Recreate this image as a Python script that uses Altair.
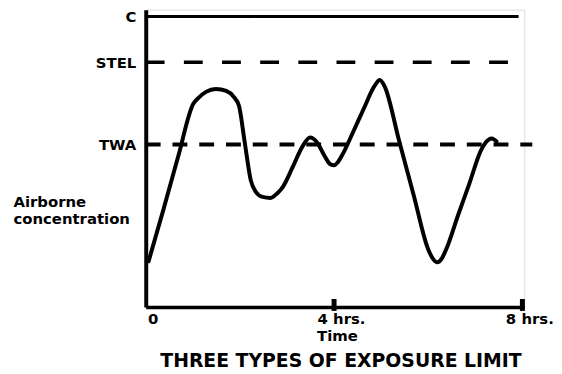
import altair as alt
import pandas as pd

# Exposure curve (hours, concentration in arbitrary units)
curve_hours = [0.06, 0.38, 0.69, 1.01, 1.12, 1.28, 1.49, 1.71, 1.87, 1.98, 2.10, 2.23,
               2.34, 2.48, 2.65, 2.80, 2.91, 3.12, 3.33, 3.49, 3.64, 3.79, 3.92, 4.00,
               4.08, 4.17, 4.40, 4.63, 4.86, 4.97, 5.07, 5.38, 5.69, 6.00, 6.11, 6.19,
               6.29, 6.38, 6.63, 6.87, 7.12, 7.22, 7.35, 7.45]
curve_conc = [46, 99, 152, 205, 211, 217, 220, 218, 212, 203, 167, 128,
              116, 111, 110, 115, 121, 141, 162, 171, 166, 153, 144, 143,
              146, 153, 176, 200, 223, 229, 223, 168, 113, 58, 48, 45,
              49, 58, 92, 124, 158, 166, 170, 167]

# Exposure limits
limit_names = ["C", "STEL", "TWA"]
limit_levels = [293, 247, 164]
limit_ends = [7.92, 7.81, 8.21]

# Time axis
x_tick_values = [0, 4, 8]
x_tick_labels = ["0", "4 hrs.", "8 hrs."]
x_tick_marks = [4, 8]

FONT = "DejaVu Sans"

curve_df = pd.DataFrame({"hours": curve_hours, "conc": curve_conc})
limits_df = pd.DataFrame({"name": limit_names, "level": limit_levels,
                          "start": [0] * len(limit_names), "end": limit_ends})
ticks_df = pd.DataFrame({"hours": x_tick_marks, "lo": [-4] * len(x_tick_marks),
                         "hi": [8] * len(x_tick_marks)})

x_label_expr = " : ".join(
    f"datum.value == {v} ? '{l}'" for v, l in zip(x_tick_values, x_tick_labels)
) + " : ''"
y_label_expr = " : ".join(
    f"datum.value == {v} ? '{l}'" for v, l in zip(limit_levels, limit_names)
) + " : ''"

x_scale = alt.Scale(domain=[0, 8.04], nice=False, zero=False)
y_scale = alt.Scale(domain=[0, 300], nice=False, zero=False)

x_axis = alt.Axis(
    values=x_tick_values, labelExpr=x_label_expr, grid=False, ticks=False, tickSize=0,
    domainColor="black", domainWidth=3.5, labelFont=FONT, labelFontWeight="bold",
    labelFontSize=15, labelColor="black", labelPadding=5, labelOffset=7,
    labelFlush=False, labelOverlap=False, labelBound=False,
    title="Time", titleFont=FONT, titleFontWeight="bold", titleFontSize=15,
    titleColor="black", titleX=193, titleY=22, titleBaseline="top",
)
y_axis = alt.Axis(
    values=limit_levels, labelExpr=y_label_expr, grid=False, ticks=False, tickSize=0,
    domainColor="black", domainWidth=4, labelFont=FONT, labelFontWeight="bold",
    labelFontSize=15, labelColor="black", labelPadding=10,
    labelFlush=False, labelOverlap=False, labelBound=False,
    title=["Airborne", "concentration"], titleAngle=0, titleAlign="left",
    titleBaseline="top", titleX=-134, titleY=187, titleFont=FONT,
    titleFontWeight="bold", titleFontSize=15, titleColor="black", titleLineHeight=17,
)

curve = alt.Chart(curve_df).mark_line(
    color="black", strokeWidth=4, interpolate="monotone", strokeCap="round",
    strokeJoin="round",
).encode(
    x=alt.X("hours:Q", scale=x_scale, axis=x_axis),
    y=alt.Y("conc:Q", scale=y_scale, axis=y_axis),
)

limits = alt.Chart(limits_df).mark_rule(color="black").encode(
    x=alt.X("start:Q", scale=x_scale),
    x2="end:Q",
    y=alt.Y("level:Q", scale=y_scale),
    strokeDash=alt.StrokeDash(
        "name:N", legend=None,
        scale=alt.Scale(domain=limit_names, range=[[1, 0], [19, 19.5], [15, 12]]),
    ),
    size=alt.Size(
        "name:N", legend=None,
        scale=alt.Scale(domain=limit_names, range=[3, 4, 4]),
    ),
)

tick_marks = alt.Chart(ticks_df).mark_rule(color="black", strokeWidth=5).encode(
    x=alt.X("hours:Q", scale=x_scale),
    y=alt.Y("lo:Q", scale=y_scale),
    y2="hi:Q",
)

chart = alt.layer(limits, tick_marks, curve).properties(
    width=382,
    height=300,
    padding={"left": 139, "top": 0, "right": 30, "bottom": 66},
    autosize=alt.AutoSizeParams(type="none"),
    title=alt.TitleParams(
        "THREE TYPES OF EXPOSURE LIMIT", orient="bottom", anchor="middle",
        font=FONT, fontSize=19, fontWeight="bold", color="black", offset=9, dx=6,
    ),
).configure_view(stroke=None).configure(background="white")

chart.save("out.html", embed_options={"renderer": "svg", "actions": False})
